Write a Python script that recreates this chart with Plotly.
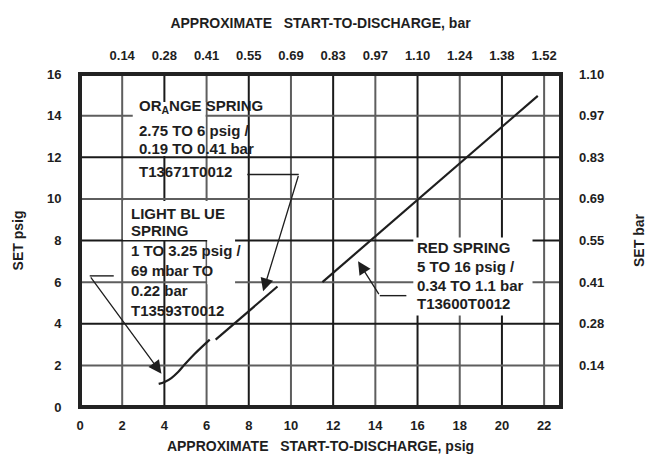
import plotly.graph_objects as go

# ---------------- data ----------------
x_psig_ticks = [0, 2, 4, 6, 8, 10, 12, 14, 16, 18, 20, 22]
x_bar_tickvals = [2, 4, 6, 8, 10, 12, 14, 16, 18, 20, 22]
x_bar_ticktext = ['0.14', '0.28', '0.41', '0.55', '0.69', '0.83', '0.97', '1.10', '1.24', '1.38', '1.52']
y_psig_ticks = [0, 2, 4, 6, 8, 10, 12, 14, 16]
y_bar_tickvals = [2, 4, 6, 8, 10, 12, 14, 16]
y_bar_ticktext = ['0.14', '0.28', '0.41', '0.55', '0.69', '0.83', '0.97', '1.10']

light_blue_x = [3.73, 4.01, 4.33, 4.65, 4.96, 5.44, 6.15]
light_blue_y = [1.11, 1.20, 1.39, 1.68, 2.04, 2.56, 3.24]
orange_x = [6.43, 9.36]
orange_y = [3.24, 5.79]
red_x = [11.49, 21.7]
red_y = [6.0, 14.95]

light_blue_text = ['LIGHT BL UE', 'SPRING', '1 TO 3.25 psig /', '69 mbar TO', '0.22 bar', 'T13593T0012']
light_blue_text_y = [9.28, 8.46, 7.50, 6.54, 5.58, 4.66]
orange_text = ['OR<sub>A</sub>NGE SPRING', '2.75 TO 6 psig /', '0.19 TO 0.41 bar', 'T13671T0012']
orange_text_y = [14.42, 13.27, 12.40, 11.30]
red_text = ['RED SPRING', '5 TO 16 psig /', '0.34 TO 1.1 bar', 'T13600T0012']
red_text_y = [7.64, 6.73, 5.82, 4.95]

# leader lines: horizontal part, then arrow from its last point to the head
lb_leader_x = [1.6, 0.46];   lb_leader_y = [6.3, 6.3];    lb_head = (3.86, 1.6)
or_leader_x = [7.93, 10.37]; or_leader_y = [11.17, 11.17]; or_head = (8.68, 5.56)
rd_leader_x = [15.47, 14.21]; rd_leader_y = [5.35, 5.35];  rd_head = (13.18, 7.0)

X_MAX = 22.8
Y_MAX = 16

FONT = "Liberation Sans, Arial, Helvetica, sans-serif"
INK = "#1e1e1e"
DARK_GRID = '#1a1a1a'
LIGHT_GRID = '#5e5e5e'
FRAME = '#222222'

fig = go.Figure()

# grid lines, one trace per line
for v in x_psig_ticks[1:]:
    fig.add_trace(go.Scatter(x=[v, v], y=[0, Y_MAX], mode='lines',
                             line=dict(color=DARK_GRID if v % 4 == 0 else LIGHT_GRID, width=2),
                             showlegend=False, hoverinfo='skip'))
for v in y_psig_ticks[1:-1]:
    fig.add_trace(go.Scatter(x=[0, X_MAX], y=[v, v], mode='lines',
                             line=dict(color=DARK_GRID if v % 4 == 0 else LIGHT_GRID, width=2),
                             showlegend=False, hoverinfo='skip'))
# frame drawn as a closed line on the plot edges
fig.add_trace(go.Scatter(x=[0, X_MAX, X_MAX, 0, 0], y=[0, 0, Y_MAX, Y_MAX, 0], mode='lines',
                         line=dict(color=FRAME, width=4), showlegend=False, hoverinfo='skip'))

# white patches behind label text
patches = [(2.5, 5.95, 12.06, 14.65),
           (2.04, 7.35, 8.03, 9.9),
           (6.03, 7.35, 5.9, 8.03),
           (15.8, 21.45, 4.4, 8.15)]
shapes = []
for x0, x1, y0, y1 in patches:
    shapes.append(dict(type='rect', xref='x', yref='y', x0=x0, x1=x1, y0=y0, y1=y1, layer='above',
                       fillcolor='white', line=dict(width=0)))

for xs, ys, shape in [(light_blue_x, light_blue_y, 'spline'),
                      (orange_x, orange_y, 'linear'),
                      (red_x, red_y, 'linear')]:
    fig.add_trace(go.Scatter(x=xs, y=ys, mode='lines', line=dict(color=INK, width=2.2, shape=shape),
                             showlegend=False, hoverinfo='skip'))
for lx, ly in [(lb_leader_x, lb_leader_y), (or_leader_x, or_leader_y), (rd_leader_x, rd_leader_y)]:
    fig.add_trace(go.Scatter(x=lx, y=ly, mode='lines', line=dict(color=INK, width=1.4),
                             showlegend=False, hoverinfo='skip'))
# carrier trace for secondary axes
fig.add_trace(go.Scatter(x=[None], y=[None], xaxis='x2', yaxis='y2', showlegend=False, hoverinfo='skip'))

annotations = []
for texts, ys, x0 in [(light_blue_text, light_blue_text_y, 2.32),
                      (orange_text, orange_text_y, 2.70),
                      (red_text, red_text_y, 15.88)]:
    for t, yy in zip(texts, ys):
        annotations.append(dict(text=t, x=x0, y=yy, xref='x', yref='y', xanchor='left', yanchor='middle',
                                showarrow=False, font=dict(family=FONT, size=15, color=INK, weight='bold')))
for lx, ly, head in [(lb_leader_x, lb_leader_y, lb_head), (or_leader_x, or_leader_y, or_head),
                     (rd_leader_x, rd_leader_y, rd_head)]:
    annotations.append(dict(text='', x=head[0], y=head[1], ax=lx[-1], ay=ly[-1],
                            xref='x', yref='y', axref='x', ayref='y', showarrow=True,
                            arrowhead=2, arrowsize=2, arrowwidth=1.3, arrowcolor=INK, standoff=0))

tickfont = dict(family=FONT, size=13, color=INK, weight='bold')
titlefont = dict(family=FONT, size=14, color=INK, weight='bold')

fig.update_layout(
    width=653, height=455,
    margin=dict(l=72, r=100, t=66, b=56),
    paper_bgcolor='white', plot_bgcolor='white',
    font=dict(family=FONT, color=INK, weight='bold'),
    annotations=annotations, shapes=shapes,
    xaxis=dict(range=[0, X_MAX], tickvals=x_psig_ticks, ticktext=[str(v) for v in x_psig_ticks],
               showgrid=False, zeroline=False, automargin=False,
               showline=True, mirror=True, linecolor=FRAME, linewidth=2,
               ticks='', tickfont=tickfont, ticklabelstandoff=5,
               title=dict(text='APPROXIMATE\u00a0\u00a0\u00a0START-TO-DISCHARGE, psig', font=titlefont, standoff=10)),
    xaxis2=dict(range=[0, X_MAX], overlaying='x', side='top', anchor='y', tickvals=x_bar_tickvals,
                ticktext=x_bar_ticktext, showgrid=False, zeroline=False, showline=False, ticks='',
                automargin=False, tickfont=tickfont, ticklabelstandoff=10,
                title=dict(text='APPROXIMATE\u00a0\u00a0\u00a0START-TO-DISCHARGE, bar', font=titlefont, standoff=16)),
    yaxis=dict(range=[0, Y_MAX], tickvals=y_psig_ticks, ticktext=[str(v) for v in y_psig_ticks],
               showgrid=False, zeroline=False, automargin=False,
               showline=True, mirror=True, linecolor=FRAME, linewidth=2,
               ticks='', tickfont=tickfont, ticklabelstandoff=14,
               title=dict(text='SET psig', font=titlefont, standoff=20)),
    yaxis2=dict(range=[0, Y_MAX], overlaying='y', side='right', anchor='x', tickvals=y_bar_tickvals,
                ticktext=y_bar_ticktext, showgrid=False, zeroline=False, showline=False, ticks='',
                automargin=False, tickfont=tickfont, ticklabelstandoff=17,
                title=dict(text='SET bar', font=titlefont, standoff=30)),
)

fig.write_html("out.html")
